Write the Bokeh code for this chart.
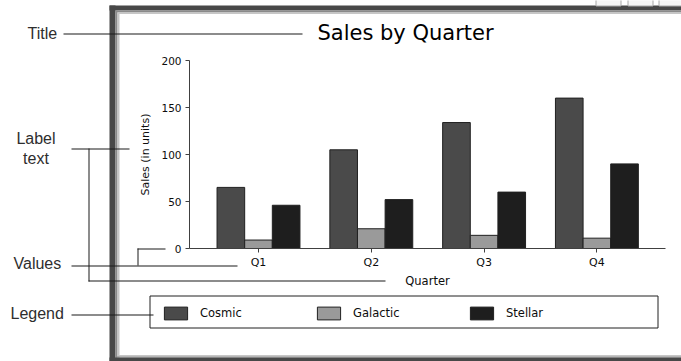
from bokeh.plotting import figure
from bokeh.models import (Range1d, ColumnDataSource, Label, BoxAnnotation,
                          Legend, LegendItem, FixedTicker)
from bokeh.transform import dodge
from bokeh.embed import file_html
from bokeh.resources import INLINE

# ---------------- data ----------------
quarters = ["Q1", "Q2", "Q3", "Q4"]
series_names = ["Cosmic", "Galactic", "Stellar"]
cosmic = [65, 105, 134, 160]
galactic = [9, 21, 14, 11]
stellar = [46, 52, 60, 90]
y_ticks = [0, 50, 100, 150, 200]
chart_title = "Sales by Quarter"
x_axis_title = "Quarter"
y_axis_title = "Sales (in units)"
callout_title = "Title"
callout_label = ["Label", "text"]
callout_values = "Values"
callout_legend = "Legend"

# ---------------- styles / layout ----------------
series_colors = ["#4a4a4a", "#9a9a9a", "#1e1e1e"]
CHART_FONT = "DejaVu Sans"
NOTE_FONT = "Liberation Sans"
INK = "#0d0d0d"
NOTE = "#2e2e2e"
LINE = "#1a1a1a"

W, H = 681, 361
PX_X = 112.8          # pixels per category step
PX_Y = 0.94           # pixels per unit of sales
Q1_PX = 258           # canvas x of the first category
ZERO_PX = 248         # canvas y of value 0
XS = 1 - Q1_PX / PX_X
XE = XS + W / PX_X
YE = ZERO_PX / PX_Y
YS = YE - H / PX_Y


def dx(cx):
    return XS + cx / PX_X


def dy(cy):
    return YE - cy / PX_Y


p = figure(width=W, height=H, x_range=Range1d(XS, XE), y_range=Range1d(YS, YE),
           output_backend="svg", toolbar_location=None,
           min_border=0, min_border_left=0, min_border_right=0,
           min_border_top=0, min_border_bottom=0)
p.outline_line_color = None
p.xgrid.visible = False
p.ygrid.visible = False
p.background_fill_color = "white"
p.border_fill_color = "white"

xpos = [i + 1 for i in range(len(quarters))]
src = ColumnDataSource(dict(x=xpos, quarter=quarters, Cosmic=cosmic,
                            Galactic=galactic, Stellar=stellar))
offsets = [-0.245, 0.0, 0.245]
renderers = []
for name, col, off in zip(series_names, series_colors, offsets):
    r = p.vbar(x=dodge("x", off), top=name, width=0.245,
               source=src, fill_color=col, line_color="#202020", line_width=1)
    renderers.append(r)

# ---------------- axes (fixed inside the canvas) ----------------
yax = p.yaxis[0]
xax = p.xaxis[0]
yax.ticker = FixedTicker(ticks=y_ticks)
yax.axis_label = y_axis_title
yax.fixed_location = dx(189)
yax.bounds = (y_ticks[0], y_ticks[-1])
xax.ticker = FixedTicker(ticks=xpos)
xax.major_label_overrides = {x: q for x, q in zip(xpos, quarters)}
xax.axis_label = x_axis_title
xax.fixed_location = 0
xax.bounds = (dx(189), dx(665))
for ax in (yax, xax):
    ax.axis_label_text_font = CHART_FONT
    ax.axis_label_text_font_style = "normal"
    ax.axis_label_text_color = INK
    ax.major_label_text_font = CHART_FONT
    ax.major_label_text_color = INK
    ax.major_tick_out = 4
    ax.major_tick_in = 0
    ax.minor_tick_out = 0
    ax.minor_tick_in = 0
    ax.axis_line_color = "#404040"
    ax.major_tick_line_color = "#404040"
yax.axis_label_text_font_size = "11px"
yax.major_label_text_font_size = "10.5px"
yax.major_label_standoff = 4
yax.axis_label_standoff = 6
xax.axis_label_text_font_size = "11.5px"
xax.major_label_text_font_size = "11px"
xax.major_label_standoff = 3
xax.axis_label_standoff = 2

# ---------------- legend ----------------
legend = Legend(items=[LegendItem(label=n, renderers=[r]) for n, r in zip(series_names, renderers)],
                location=(161, H - 321.4), orientation="horizontal", padding=0, spacing=0,
                margin=0, border_line_color=None, background_fill_alpha=0,
                glyph_width=29, glyph_height=16, label_standoff=10, label_width=114,
                label_height=16, label_text_font=CHART_FONT, label_text_font_size="11.5px",
                label_text_color=INK)
p.add_layout(legend)


def cbox(l, r, t, b, color, line=None):
    kw = dict(left=dx(l), right=dx(r), top=dy(t), bottom=dy(b), level="annotation")
    if line is None:
        kw.update(fill_color=color, fill_alpha=1, line_color=None)
    else:
        kw.update(fill_color=color or "white", fill_alpha=0 if color is None else 1,
                  line_color=line, line_alpha=1, line_width=1)
    return BoxAnnotation(**kw)


# window frame bands (left, top, bottom)
bands = [(109, 5, 6, 5, "#484848"), (115, 10, 2, 2, "#8a8a8a"), (117, 12, 2, 1.5, "#c6c6c6")]
for (x0, y0, wl, ht, c) in bands:
    p.add_layout(cbox(x0, x0 + wl, y0, 400, c))
    p.add_layout(cbox(x0, 700, y0, y0 + ht, c))
p.add_layout(cbox(117, 700, 354.5, 356, "#c6c6c6"))
p.add_layout(cbox(115, 700, 356, 357, "#8a8a8a"))
p.add_layout(cbox(109, 700, 357, 370, "#484848"))
# window buttons peeking above the top band
for (x0, x1) in [(595.5, 620.5), (627.5, 652.5), (658.5, 690)]:
    p.add_layout(cbox(x0, x1, -3, 5.5, "#f6f6f6", line="#a8a8a8"))

# legend frame
p.add_layout(cbox(149.5, 657.5, 295.5, 327.5, None, line="#202020"))

# callout lines (canvas px)
hlines = [(33, 63, 302), (148, 71, 129), (280, 88, 385), (265, 71, 237),
          (248, 137, 165), (314, 71, 153)]
vlines = [(88, 148, 281), (137, 248, 265)]
for (row, x0, x1) in hlines:
    p.add_layout(cbox(x0, x1, row, row + 1, LINE))
for (col, y0, y1) in vlines:
    p.add_layout(cbox(col, col + 1, y0, y1, LINE))


def clabel(x, y, text, font, size, color, align="left"):
    return Label(x=dx(x), y=dy(y - 5.5), text=text,
                 text_font=font, text_font_size=size, text_color=color,
                 text_align=align, text_baseline="alphabetic")


p.add_layout(clabel(405, 37.5, chart_title, CHART_FONT, "21px", "#000000", "center"))
p.add_layout(clabel(27, 38.3, callout_title, NOTE_FONT, "16px", NOTE))
p.add_layout(clabel(35.5, 143.3, callout_label[0], NOTE_FONT, "16px", NOTE, "center"))
p.add_layout(clabel(35.5, 163.3, callout_label[1], NOTE_FONT, "16px", NOTE, "center"))
p.add_layout(clabel(13, 268, callout_values, NOTE_FONT, "16px", NOTE))
p.add_layout(clabel(10, 318, callout_legend, NOTE_FONT, "16px", NOTE))

open("out.html", "w").write(file_html(p, INLINE))
